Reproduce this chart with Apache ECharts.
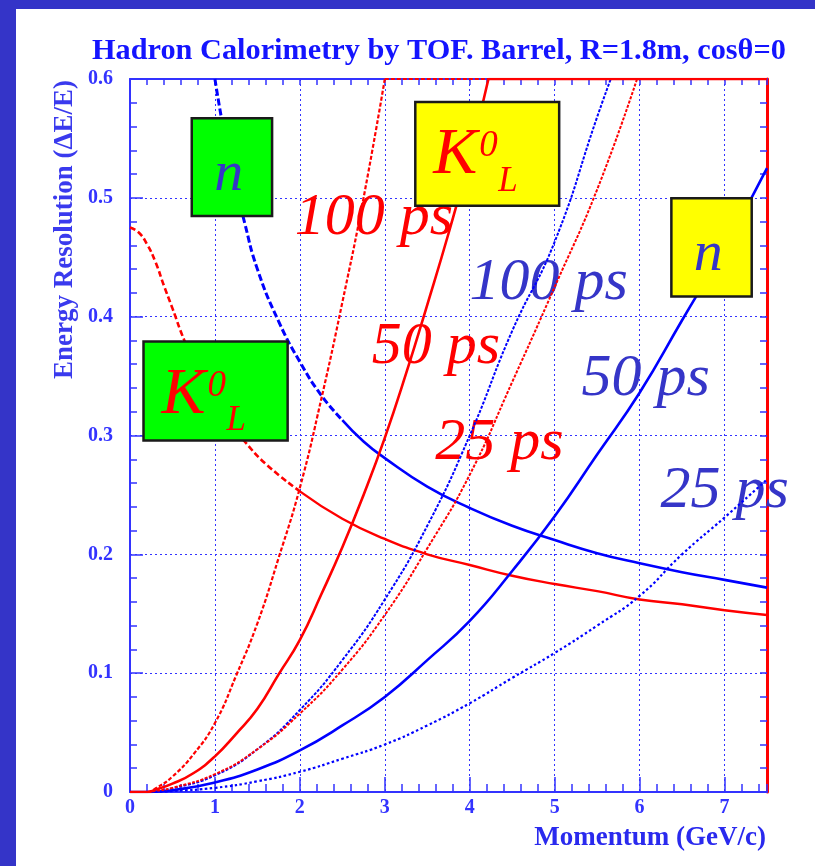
<!DOCTYPE html>
<html><head><meta charset="utf-8">
<script src="https://cdn.jsdelivr.net/npm/echarts@6/dist/echarts.min.js"></script>
<style>
html,body{margin:0;padding:0;width:815px;height:866px;overflow:hidden;background:#3434c8;}
#paper{position:absolute;left:16px;top:9px;right:0;bottom:0;background:#ffffff;}
#chart{position:absolute;left:0;top:0;width:815px;height:866px;}
</style></head>
<body><div id="paper"></div><div id="chart"></div>
<script>
// ---- data: [momentum GeV/c, energy resolution] ----
const nResolution = [[1.0,0.6],[1.1,0.558],[1.2,0.524],[1.35,0.479],[1.5,0.44],[1.75,0.396],[2.0,0.362],[2.25,0.334],[2.5,0.313],[2.75,0.295],[3.0,0.281],[3.5,0.257],[4.0,0.239],[4.5,0.224],[5.0,0.212],[5.5,0.201],[6.0,0.1925],[6.5,0.185],[7.0,0.1785],[7.5,0.172]];
const k0lResolution = [[0,0.475],[0.1,0.471],[0.2,0.461],[0.3,0.446],[0.4,0.426],[0.5,0.407],[0.64,0.38],[0.8,0.355],[1.0,0.33],[1.2,0.309],[1.35,0.295],[1.6,0.276],[2.0,0.253],[2.5,0.23],[3.0,0.213],[3.5,0.2],[4.0,0.191],[4.5,0.182],[5.0,0.175],[5.5,0.169],[6.0,0.162],[6.5,0.158],[7.0,0.153],[7.5,0.149]];
const k0l100ps = [[0,0],[0.2,0],[0.3,0.003],[0.5,0.013],[0.75,0.032],[1.0,0.058],[1.25,0.098],[1.5,0.142],[1.75,0.197],[2.0,0.256],[2.25,0.33],[2.5,0.412],[2.75,0.5],[3.0,0.6],[7.5,0.6]];
const k0l50ps = [[0,0],[0.2,0],[0.3,0.002],[0.5,0.007],[0.75,0.016],[1.0,0.03],[1.25,0.049],[1.5,0.07],[1.75,0.099],[2.0,0.128],[2.25,0.166],[2.5,0.206],[2.75,0.25],[3.0,0.298],[3.25,0.352],[3.5,0.41],[3.75,0.47],[4.0,0.535],[4.22,0.6],[7.5,0.6]];
const k0l25ps = [[0,0],[0.2,0],[0.3,0.001],[0.5,0.0035],[1.0,0.015],[1.5,0.036],[2.0,0.066],[2.5,0.103],[3.0,0.149],[3.5,0.205],[4.0,0.267],[4.5,0.345],[5.0,0.425],[5.5,0.507],[5.97,0.6],[7.5,0.6]];
const n100ps = [[0,0],[0.2,0],[0.3,0.0005],[0.5,0.003],[1.0,0.014],[1.5,0.036],[2.0,0.069],[2.5,0.111],[3.0,0.162],[3.5,0.224],[4.0,0.3],[4.5,0.388],[5.0,0.463],[5.5,0.568],[5.66,0.6],[7.5,0.6]];
const n50ps = [[0,0],[0.2,0],[0.3,0.0003],[0.5,0.0015],[1.0,0.008],[1.5,0.019],[2.0,0.035],[2.5,0.056],[3.0,0.08],[3.5,0.111],[4.0,0.144],[4.5,0.186],[5.0,0.232],[5.5,0.284],[6.0,0.336],[6.5,0.397],[7.0,0.458],[7.5,0.525]];
const n25ps = [[0,0],[0.2,0],[0.5,0.0008],[1.0,0.0035],[1.5,0.009],[2.0,0.017],[2.5,0.028],[3.0,0.04],[3.5,0.056],[4.0,0.0747],[4.5,0.096],[5.0,0.117],[5.5,0.14],[6.0,0.165],[6.5,0.2],[7.0,0.231],[7.5,0.263]];
const xTickLabels = ['0','1','2','3','4','5','6','7'];
const yTickLabels = ['0','0.1','0.2','0.3','0.4','0.5','0.6'];

// ---- styles ----
const RED = '#ff0000', BLUE = '#0000ff', AXIS = '#3333ff', TXT_BLUE = '#3535c8';
const SERIF = '"Liberation Serif","Times New Roman",serif';
const Y_MAX = 0.6;

const chart = echarts.init(document.getElementById('chart'), null, {renderer:'canvas'});

function line(name, data, color, width, type, smooth) {
  return {name, type:'line', data, symbol:'none', showSymbol:false,
    smooth: smooth === false ? false : 0.5,
    xAxisIndex:0, yAxisIndex:0, clip:true,
    lineStyle:{color, width, type}, emphasis:{disabled:true}};
}
// a rising curve: the part below the frame top (smooth) and its run along the top edge (straight)
function rising(name, data, color, width, type) {
  const i = data.findIndex(p => p[1] >= Y_MAX);
  if (i < 0) return [line(name, data, color, width, type)];
  return [line(name, data.slice(0, i + 1), color, width, type),
          line(name + ' (top)', data.slice(i), color, width, type, false)];
}

const steepN = nResolution.filter(p => p[0] <= 2.5), flatN = nResolution.filter(p => p[0] >= 2.5);
const steepK = k0lResolution.filter(p => p[0] <= 2.0), flatK = k0lResolution.filter(p => p[0] >= 2.0);

const tickLabelStyle = {color:AXIS, fontFamily:SERIF, fontWeight:'bold', fontSize:20};

chart.setOption({
  animation:false,
  backgroundColor:'transparent',
  title:{text:'Hadron Calorimetry by TOF. Barrel, R=1.8m, cos\u03b8=0', left:87, top:31,
    textStyle:{color:'#1414ff', fontFamily:SERIF, fontWeight:'bold', fontSize:30.3}},
  grid:{left:130, right:48, top:79, bottom:74, containLabel:false},
  xAxis:[
    {type:'value', min:0, max:7.5, interval:1, position:'bottom',
      axisLine:{onZero:false, lineStyle:{color:AXIS, width:2}},
      axisTick:{inside:true, length:15, lineStyle:{color:AXIS, width:1.5}},
      axisLabel:{...tickLabelStyle, margin:6, showMaxLabel:false,
        formatter:(v)=>{const i = Math.round(v); return Math.abs(v-i)<1e-6 && i < xTickLabels.length ? xTickLabels[i] : '';}},
      splitLine:{show:true, lineStyle:{color:AXIS, width:1, type:[2,3]}}},
    {type:'value', min:0, max:7.5, interval:0.2, position:'bottom',
      axisLine:{show:false, onZero:false}, axisTick:{inside:true, length:8, lineStyle:{color:AXIS, width:1.5}},
      axisLabel:{show:false}, splitLine:{show:false}},
    {type:'value', min:0, max:7.5, interval:0.2, position:'top',
      axisLine:{onZero:false, lineStyle:{color:AXIS, width:2}},
      axisTick:{inside:true, length:6, lineStyle:{color:AXIS, width:1.5}},
      axisLabel:{show:false}, splitLine:{show:false}}
  ],
  yAxis:[
    {type:'value', min:0, max:Y_MAX, interval:0.1, position:'left',
      axisLine:{onZero:false, lineStyle:{color:AXIS, width:2}},
      axisTick:{inside:true, length:13, lineStyle:{color:AXIS, width:1.5}},
      minorTick:{show:true, splitNumber:5, length:7, lineStyle:{color:AXIS, width:1.5}},
      axisLabel:{...tickLabelStyle, margin:17,
        formatter:(v)=>{const i = Math.round(v*10); return i < yTickLabels.length ? yTickLabels[i] : '';}},
      splitLine:{show:true, lineStyle:{color:AXIS, width:1, type:[2,3]}}},
    {type:'value', min:0, max:Y_MAX, interval:0.02, position:'right',
      axisLine:{onZero:false, lineStyle:{color:RED, width:3}},
      axisTick:{inside:true, length:7, lineStyle:{color:AXIS, width:1.5}},
      axisLabel:{show:false}, splitLine:{show:false}}
  ],
  series:[
    line('n resolution', steepN, BLUE, 3, [7,3]),
    line('n resolution ', flatN, BLUE, 2.6, 'solid'),
    line('K0L resolution', steepK, RED, 2.6, [6,3]),
    line('K0L resolution ', flatK, RED, 2.4, 'solid'),
    ...rising('n 25 ps', n25ps, BLUE, 2.2, [2.5,2.5]),
    ...rising('n 100 ps', n100ps, BLUE, 2, [3,1.5]),
    ...rising('n 50 ps', n50ps, BLUE, 2.6, 'solid'),
    ...rising('K0L 25 ps', k0l25ps, RED, 2, [3,1.5]),
    ...rising('K0L 100 ps', k0l100ps, RED, 2.2, [4,2]),
    ...rising('K0L 50 ps', k0l50ps, RED, 2.6, 'solid')
  ]
});

// ---- annotations (positions in data units) ----
const curveLabels = [
  {text:'100 ps', color:RED,      at:[1.939, 0.485]},
  {text:'100 ps', color:TXT_BLUE, at:[3.998, 0.4303]},
  {text:'50 ps',  color:RED,      at:[2.845, 0.3769]},
  {text:'25 ps',  color:RED,      at:[3.594, 0.2956]},
  {text:'50 ps',  color:TXT_BLUE, at:[5.315, 0.3496]},
  {text:'25 ps',  color:TXT_BLUE, at:[6.246, 0.2556]}
];
const particleBoxes = [
  {kind:'n', fill:'#00ff00', from:[0.727, 0.567],  to:[1.673, 0.4848]},
  {kind:'K', fill:'#ffff00', from:[3.359, 0.5806], to:[5.053, 0.4933]},
  {kind:'K', fill:'#00ff00', from:[0.159, 0.379],  to:[1.856, 0.2957]},
  {kind:'n', fill:'#ffff00', from:[6.374, 0.4997], to:[7.32, 0.4169]}
];

function txt(x, y, text, color, font, align, z, extra) {
  return Object.assign({type:'text', x, y, z, silent:true,
    style:{text, fill:color, font, align, verticalAlign:'middle', textAlign:align, textVerticalAlign:'middle'}}, extra||{});
}

const graphics = [];
curveLabels.forEach(l => {
  const p = chart.convertToPixel({gridIndex:0}, l.at);
  graphics.push(txt(p[0], p[1] + 3, l.text, l.color, 'italic 60px ' + SERIF, 'left', 1));
});
particleBoxes.forEach(b => {
  const a = chart.convertToPixel({gridIndex:0}, b.from);
  const c = chart.convertToPixel({gridIndex:0}, b.to);
  graphics.push({type:'rect', z:10, silent:true, shape:{x:a[0], y:a[1], width:c[0]-a[0], height:c[1]-a[1]},
    style:{fill:b.fill, stroke:'#1a1a1a', lineWidth:2.5}});
  if (b.kind === 'n') {
    graphics.push(txt(a[0]+37, a[1]+57, 'n', TXT_BLUE, 'italic 58px ' + SERIF, 'center', 11));
  } else {
    graphics.push(txt(a[0]+18, a[1]+54, 'K', RED, 'italic 66px ' + SERIF, 'left', 11));
    graphics.push(txt(a[0]+64, a[1]+44.5, '0', RED, 'italic 37px ' + SERIF, 'left', 11));
    graphics.push(txt(a[0]+83, a[1]+79.5, 'L', RED, 'italic 35px ' + SERIF, 'left', 11));
  }
});
// axis titles
graphics.push(txt(65.5, 80, 'Energy Resolution (\u0394E/E)', '#3a3aee', 'bold 27px ' + SERIF, 'right', 5, {rotation:Math.PI/2}));
graphics.push(txt(766, 838.5, 'Momentum (GeV/c)', '#2a2aee', 'bold 27px ' + SERIF, 'right', 5));

chart.setOption({graphic:{elements:graphics}});
</script>
</body></html>
